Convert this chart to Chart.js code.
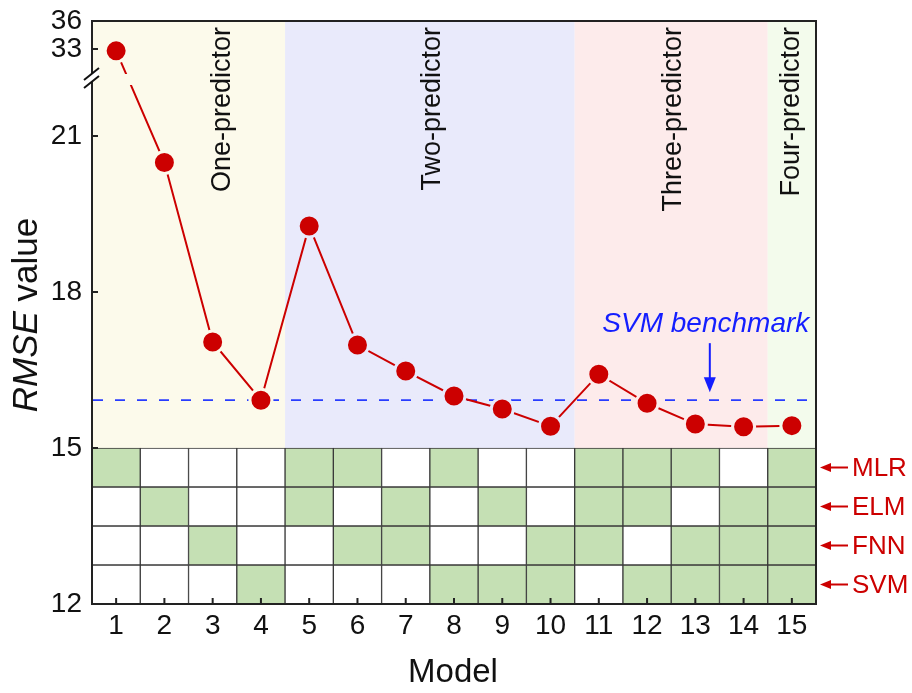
<!DOCTYPE html>
<html>
<head>
<meta charset="utf-8">
<script src="https://cdn.jsdelivr.net/npm/chart.js@4.4.1/dist/chart.umd.min.js"></script>
<style>
  html, body { margin: 0; padding: 0; background: #ffffff; }
  canvas { display: block; }
</style>
</head>
<body>
<canvas id="c" width="912" height="693"></canvas>
<script>
// ---- data ----
const models = ['1','2','3','4','5','6','7','8','9','10','11','12','13','14','15'];
const rmse = [32.8, 20.49, 17.04, 15.92, 19.27, 16.98, 16.48, 16.0, 15.75, 15.42, 16.42, 15.86, 15.46, 15.41, 15.43];
const svmBenchmark = 15.92;
const yTickValues = [12, 15, 18, 21, 33, 36];

// predictor membership of each model (1 = used)
const predictors = ['MLR', 'ELM', 'FNN', 'SVM'];
const useMLR = [1,0,0,0,1,1,0,1,0,0,1,1,1,0,1];
const useELM = [0,1,0,0,1,0,1,0,1,0,1,1,0,1,1];
const useFNN = [0,0,1,0,0,1,1,0,0,1,1,0,1,1,1];
const useSVM = [0,0,0,1,0,0,0,1,1,1,0,1,1,1,1];
const usage = [useMLR, useELM, useFNN, useSVM];

// model groups by number of predictors
const groupNames = ['One-predictor', 'Two-predictor', 'Three-predictor', 'Four-predictor'];
const groupFirst = [1, 5, 11, 15];
const groupLast  = [4, 10, 14, 15];

// ---- styling ----
const FONT = '"Liberation Sans", Arial, Helvetica, sans-serif';
const RED = '#cc0000';
const CELL_GREEN = '#c5e0b4';
const BAND_COLORS = ['#fcfaeb', '#e9eafb', '#fdebeb', '#f3fbec'];
const AXIS_MIN = 12, AXIS_MAX = 36;
const BREAK_LO = 22, BREAK_HI = 29.25, LOWER_SHARE = 520 / 583;
const MATRIX_TOP = 15;

function groupOf(model) {
  for (let g = 0; g < groupFirst.length; g++) {
    if (model >= groupFirst[g] && model <= groupLast[g]) return g;
  }
  return 0;
}

// Linear axis with a break between BREAK_LO and BREAK_HI
class BrokenLinearScale extends Chart.LinearScale {
  buildTicks() {
    return yTickValues.map(v => ({ value: v }));
  }
  getPixelForValue(v) {
    const H = this.bottom - this.top;
    const lowH = H * LOWER_SHARE;
    if (v <= BREAK_LO) return this.bottom - (v - AXIS_MIN) / (BREAK_LO - AXIS_MIN) * lowH;
    if (v >= BREAK_HI) return this.bottom - lowH - (v - BREAK_HI) / (AXIS_MAX - BREAK_HI) * (H - lowH);
    return this.bottom - lowH;
  }
  getValueForPixel(p) {
    const H = this.bottom - this.top;
    const lowH = H * LOWER_SHARE;
    const d = this.bottom - p;
    if (d <= lowH) return AXIS_MIN + d / lowH * (BREAK_LO - AXIS_MIN);
    return BREAK_HI + (d - lowH) / (H - lowH) * (AXIS_MAX - BREAK_HI);
  }
}
BrokenLinearScale.id = 'brokenLinear';
BrokenLinearScale.defaults = Chart.LinearScale.defaults;
Chart.register(BrokenLinearScale);

// one row of the predictor matrix per predictor
const rowSpan = (MATRIX_TOP - AXIS_MIN) / predictors.length;
const matrixDatasets = predictors.map((name, r) => {
  const hi = MATRIX_TOP - r * rowSpan;
  const lo = hi - rowSpan;
  return {
    type: 'bar',
    label: name,
    data: models.map(() => [lo, hi]),
    backgroundColor: usage[r].map(u => u ? CELL_GREEN : '#ffffff'),
    borderColor: '#3a3a3a',
    borderWidth: 1,
    borderSkipped: false,
    barPercentage: 1,
    categoryPercentage: 1,
    grouped: false,
    order: 2
  };
});

const lineDataset = {
  type: 'line',
  label: 'RMSE',
  data: rmse,
  borderColor: RED,
  borderWidth: 2,
  pointRadius: 11,
  pointHoverRadius: 11,
  pointBorderWidth: 3,
  pointBackgroundColor: RED,
  pointBorderColor: models.map((m, i) => BAND_COLORS[groupOf(i + 1)]),
  tension: 0,
  order: 0
};

const decorations = {
  id: 'decorations',
  beforeDatasetsDraw(chart) {
    const { ctx, chartArea: ca, scales: { x: xs, y: ys } } = chart;
    ctx.save();
    // predictor-count bands
    const yTop = ys.getPixelForValue(AXIS_MAX);
    const yBot = ys.getPixelForValue(MATRIX_TOP);
    groupFirst.forEach((f, g) => {
      const x0 = xs.getPixelForValue(f - 1.5);
      const x1 = xs.getPixelForValue(groupLast[g] - 0.5);
      ctx.fillStyle = BAND_COLORS[g];
      ctx.fillRect(x0, yTop, x1 - x0, yBot - yTop);
    });
    // group names, written upwards from the top edge
    const labelAt = [2.21, 6.56, 11.54, 14.0];
    ctx.fillStyle = '#111111';
    ctx.font = '27px ' + FONT;
    ctx.textAlign = 'right';
    ctx.textBaseline = 'middle';
    groupNames.forEach((name, g) => {
      ctx.save();
      ctx.translate(xs.getPixelForValue(labelAt[g]), yTop + 6);
      ctx.rotate(-Math.PI / 2);
      ctx.fillText(name, 0, 0);
      ctx.restore();
    });
    // SVM benchmark reference line
    const yb = ys.getPixelForValue(svmBenchmark);
    ctx.strokeStyle = 'rgb(40,60,255)';
    ctx.lineWidth = 1.8;
    ctx.setLineDash([10, 12]);
    ctx.beginPath();
    ctx.moveTo(ca.left + 1, yb);
    ctx.lineTo(ca.right - 8, yb);
    ctx.stroke();
    ctx.setLineDash([]);
    ctx.restore();
  },
  afterDatasetsDraw(chart) {
    const { ctx, chartArea: ca, scales: { x: xs, y: ys } } = chart;
    ctx.save();
    const yBreak = ys.getPixelForValue(BREAK_LO);
    // gap in the data line where it crosses the axis break
    ctx.fillStyle = BAND_COLORS[0];
    ctx.fillRect(ca.left + 2, yBreak - 10, xs.getPixelForValue(0.5) - ca.left - 2, 11);
    // frame
    ctx.strokeStyle = '#222222';
    ctx.lineWidth = 2;
    ctx.strokeRect(ca.left, ca.top, ca.right - ca.left, ca.bottom - ca.top);
    // inward tick marks
    ctx.lineWidth = 2;
    ctx.beginPath();
    yTickValues.forEach(v => {
      const py = ys.getPixelForValue(v);
      ctx.moveTo(ca.left, py);
      ctx.lineTo(ca.left + 6, py);
    });
    models.forEach((m, i) => {
      const px = xs.getPixelForValue(i);
      ctx.moveTo(px, ca.bottom);
      ctx.lineTo(px, ca.bottom - 6);
    });
    ctx.stroke();
    // axis break marks
    const bx = ca.left, by = yBreak - 6;
    ctx.fillStyle = '#ffffff';
    ctx.beginPath();
    ctx.moveTo(bx - 7, by + 1);
    ctx.lineTo(bx + 7, by - 10);
    ctx.lineTo(bx + 7, by - 2);
    ctx.lineTo(bx - 7, by + 9);
    ctx.closePath();
    ctx.fill();
    ctx.strokeStyle = '#111111';
    ctx.lineWidth = 2;
    ctx.beginPath();
    ctx.moveTo(bx - 8, by + 2);
    ctx.lineTo(bx + 7, by - 10);
    ctx.moveTo(bx - 8, by + 10);
    ctx.lineTo(bx + 7, by - 2);
    ctx.stroke();
    ctx.restore();
  },
  afterDraw(chart) {
    const { ctx, chartArea: ca, scales: { x: xs, y: ys } } = chart;
    ctx.save();
    // axis titles
    ctx.fillStyle = '#111111';
    ctx.textBaseline = 'middle';
    ctx.textAlign = 'center';
    ctx.font = '33px ' + FONT;
    ctx.fillText('Model', (ca.left + ca.right) / 2 - 1, 673);
    ctx.save();
    ctx.translate(27, 315);
    ctx.rotate(-Math.PI / 2);
    const fItal = 'italic 35px ' + FONT, fNorm = '35px ' + FONT;
    ctx.font = fItal;
    const w1 = ctx.measureText('RMSE').width;
    ctx.font = fNorm;
    const w2 = ctx.measureText(' value').width;
    ctx.textAlign = 'left';
    const sx = -(w1 + w2) / 2;
    ctx.font = fItal;
    ctx.fillText('RMSE', sx, 0);
    ctx.font = fNorm;
    ctx.fillText(' value', sx + w1, 0);
    ctx.restore();

    // predictor row labels with arrows
    ctx.fillStyle = RED;
    ctx.strokeStyle = RED;
    ctx.font = '26px ' + FONT;
    ctx.textAlign = 'left';
    predictors.forEach((name, r) => {
      const hi = MATRIX_TOP - r * rowSpan;
      const cy = ys.getPixelForValue(hi - rowSpan / 2);
      const ax = ca.right + 4;
      ctx.lineWidth = 2;
      ctx.beginPath();
      ctx.moveTo(ax + 8, cy);
      ctx.lineTo(ax + 28, cy);
      ctx.stroke();
      ctx.beginPath();
      ctx.moveTo(ax, cy);
      ctx.lineTo(ax + 11, cy - 4.5);
      ctx.lineTo(ax + 11, cy + 4.5);
      ctx.closePath();
      ctx.fill();
      ctx.fillText(name, ca.right + 36, cy + 1);
    });

    // benchmark annotation
    const yb = ys.getPixelForValue(svmBenchmark);
    const axp = xs.getPixelForValue(12.3);
    ctx.fillStyle = 'rgb(20,30,255)';
    ctx.strokeStyle = 'rgb(20,30,255)';
    ctx.font = 'italic 28px ' + FONT;
    ctx.textAlign = 'center';
    ctx.fillText('SVM benchmark', axp - 4, yb - 76);
    ctx.lineWidth = 2;
    ctx.beginPath();
    ctx.moveTo(axp, yb - 57);
    ctx.lineTo(axp, yb - 20);
    ctx.stroke();
    ctx.beginPath();
    ctx.moveTo(axp, yb - 8);
    ctx.lineTo(axp - 6, yb - 23);
    ctx.lineTo(axp + 6, yb - 23);
    ctx.closePath();
    ctx.fill();
    ctx.restore();
  }
};

new Chart(document.getElementById('c'), {
  type: 'bar',
  data: {
    labels: models,
    datasets: [lineDataset, ...matrixDatasets]
  },
  options: {
    responsive: false,
    animation: false,
    events: [],
    layout: { padding: { top: 21, right: 96, left: 0, bottom: 0 } },
    plugins: { legend: { display: false }, tooltip: { enabled: false } },
    scales: {
      x: {
        type: 'category',
        offset: true,
        grid: { display: false, drawTicks: false },
        border: { display: false },
        ticks: { color: '#111111', font: { family: FONT, size: 28 }, padding: 5, maxRotation: 0, autoSkip: false },
        afterFit(scale) { scale.height = 89; scale.paddingLeft = 0; scale.paddingRight = 0; }
      },
      y: {
        type: 'brokenLinear',
        min: AXIS_MIN,
        max: AXIS_MAX,
        grid: { display: false, drawTicks: false },
        border: { display: false },
        ticks: { color: '#111111', font: { family: FONT, size: 28 }, padding: 10, callback: v => String(v) },
        afterFit(scale) { scale.width = 92; scale.paddingTop = 0; scale.paddingBottom = 0; }
      }
    }
  },
  plugins: [decorations]
});
</script>
</body>
</html>
